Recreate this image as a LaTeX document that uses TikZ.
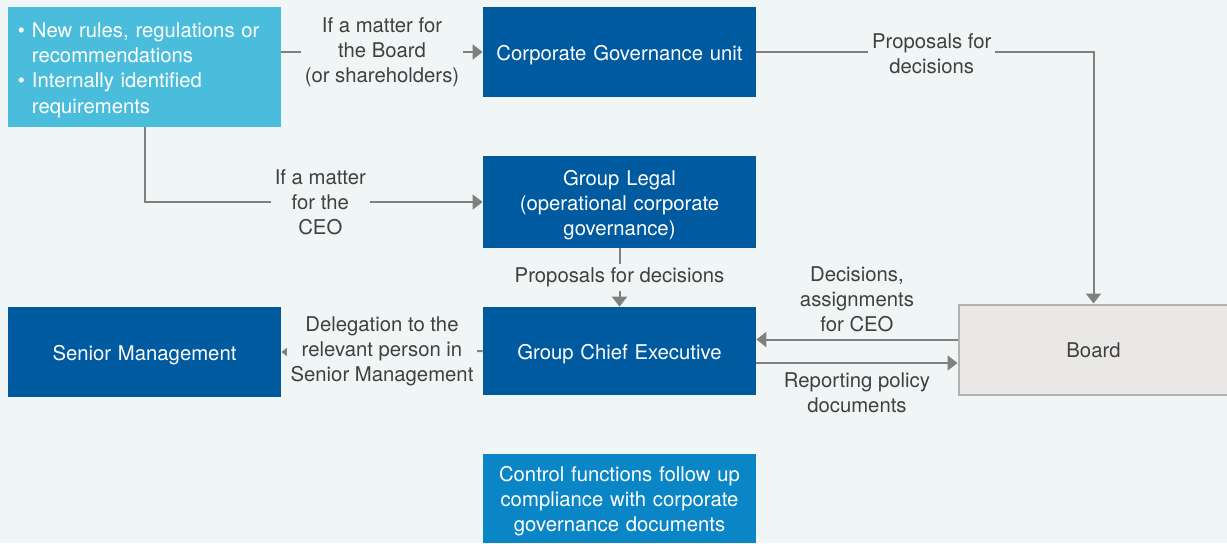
\documentclass[tikz,border=0pt]{standalone}
\usepackage{fontspec}
\setmainfont{TeX Gyre Heros}
\usetikzlibrary{arrows.meta}

\definecolor{bgcol}{HTML}{F0F5F5}
\definecolor{lightblue}{HTML}{4BBDDC}
\definecolor{darkblue}{HTML}{005A9F}
\definecolor{ctrlblue}{HTML}{0A85C6}
\definecolor{boardgray}{HTML}{E9E8E6}
\definecolor{bordergray}{HTML}{B3B3B3}
\definecolor{linegray}{HTML}{808080}
\definecolor{textgray}{HTML}{404040}

\tikzset{
  box/.style={rectangle,fill=darkblue,text=white,minimum width=136.5pt,minimum height=45pt,text width=130pt,align=center,inner sep=0pt,
    execute at begin node={\rule{0pt}{11pt}},execute at end node={\rule[-2.8pt]{0pt}{0pt}}},
  link/.style={draw=linegray,line width=1pt,-{Triangle[length=5pt,width=7.5pt]}},
  lbl/.style={fill=bgcol,text=textgray,align=center,inner sep=2pt}
}

\begin{document}
\begin{tikzpicture}[x=0.5pt,y=-0.5pt,font=\fontsize{10.15}{12.6}\selectfont]
\useasboundingbox (0,0) rectangle (1227,543);
\fill[bgcol] (0,0) rectangle (1227,543);

% boxes
\node[box,fill=lightblue,minimum height=60pt,text width=126.5pt,align=left] (inputs) at (144.5,67)
  {\makebox[7pt][l]{\textbullet}New rules, regulations or\\\hspace*{7pt}recommendations\\\makebox[7pt][l]{\textbullet}Internally identified\\\hspace*{7pt}requirements};
\node[box] (cgu) at (619.5,52) {Corporate Governance unit};
\node[box,minimum height=46pt] (legal) at (619.5,202) {Group Legal\\(operational corporate\\governance)};
\node[box,minimum height=44pt] (gce) at (619.5,351) {Group Chief Executive};
\node[box] (senior) at (144.5,352) {Senior Management};
\node[box,fill=boardgray,draw=bordergray,line width=1pt,text=textgray,minimum width=135pt] (board) at (1093.5,349.5) {Board};
\node[box,fill=ctrlblue,minimum height=44.5pt] (ctrl) at (619.5,498.5) {Control functions follow up\\compliance with corporate\\governance documents};

% connectors
\draw[link] (inputs.east |- cgu.west) -- (cgu.west) node[lbl,midway] {If a matter for\\the Board\\(or shareholders)};
\draw[link] (inputs.south) |- (legal.west) node[lbl,pos=0.76] {If a matter\\for the\\CEO};
\draw[link] (cgu.east) -| (board.north) node[lbl,pos=0.26,yshift=-1pt] {Proposals for\\decisions};
\draw[link] (legal) -- (gce) node[lbl,midway] {Proposals for decisions};
\draw[link] ([yshift=5pt]board.west) -- ([yshift=5pt]board.west -| gce.east) node[midway,above,text=textgray,align=center] {Decisions,\\assignments\\for CEO};
\draw[link] ([yshift=-6pt]gce.east) -- ([yshift=-6pt]gce.east -| board.west) node[midway,below,yshift=-1pt,text=textgray,align=center] {Reporting policy\\documents};
\draw[link] (gce.west) -- (senior.east) node[lbl,midway] {Delegation to the\\relevant person in\\Senior Management};
\end{tikzpicture}
\end{document}
